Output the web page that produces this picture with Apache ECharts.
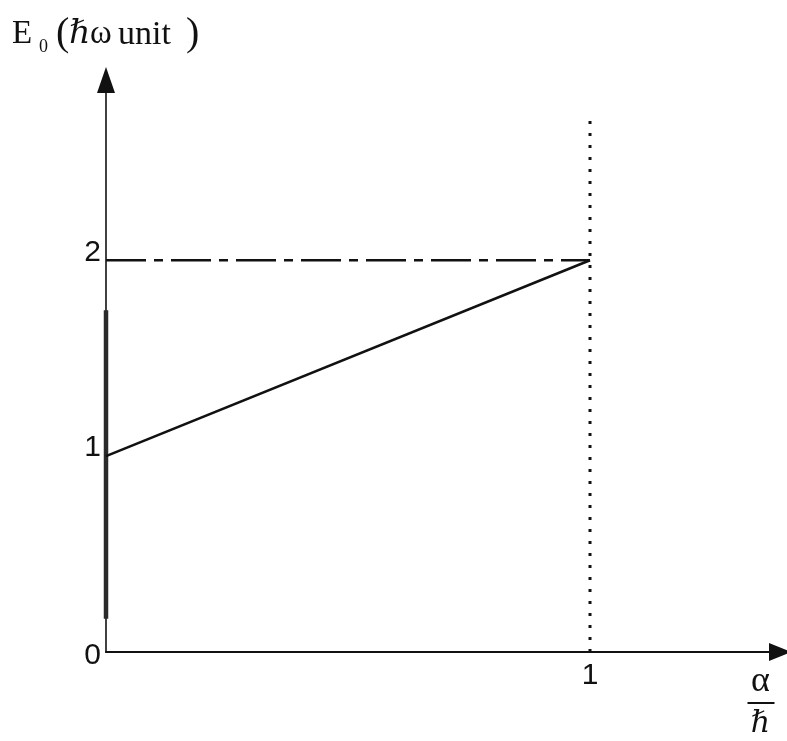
<!DOCTYPE html>
<html>
<head>
<meta charset="utf-8">
<script src="https://cdn.jsdelivr.net/npm/echarts@6/dist/echarts.min.js"></script>
<style>
  html, body { margin: 0; padding: 0; background: #ffffff; }
  #chart { width: 787px; height: 741px; }
</style>
</head>
<body>
<div id="chart"></div>
<script>
// Ground-state energy E0 (in units of ħω) against α/ħ
const yTicks = [0, 1, 2];
const xTicks = [1];
const energyLine = [[0, 1], [1, 2]];        // E0 rising from 1 to 2
const levelLine = [[0, 2], [1, 2]];         // E0 = 2 reference level
const limitLine = [[1, 0], [1, 2.75]];      // α/ħ = 1 boundary
const axisSegment = [[0, 0.17], [0, 1.745]]; // heavy stroke along the E0 axis

const serif = "'Liberation Serif', 'DejaVu Serif', serif";
const sans = "'Liberation Sans', Arial, sans-serif";
const ink = '#111';

const chart = echarts.init(document.getElementById('chart'), null, { renderer: 'canvas' });

chart.setOption({
  animation: false,
  backgroundColor: '#ffffff',
  grid: { left: 106, right: 15, top: 84, bottom: 89, containLabel: false },
  xAxis: {
    type: 'value',
    min: 0,
    max: 1.376,
    splitLine: { show: false },
    axisLine: {
      lineStyle: { color: ink, width: 2.2 },
      symbol: ['none', 'triangle'],
      symbolSize: [18, 22],
      symbolOffset: [0, 8]
    },
    axisTick: { show: false },
    axisLabel: {
      customValues: xTicks,
      formatter: v => String(v),
      fontFamily: sans,
      fontSize: 30,
      color: ink,
      margin: 9
    }
  },
  yAxis: {
    type: 'value',
    min: 0,
    max: 2.9,
    splitLine: { show: false },
    axisLine: {
      lineStyle: { color: ink, width: 1.6 },
      symbol: ['none', 'triangle'],
      symbolSize: [18, 26],
      symbolOffset: [0, 4]
    },
    axisTick: { show: false },
    axisLabel: {
      customValues: yTicks,
      formatter: v => (v === 0 ? '{z|0}' : '{n|' + v + '}'),
      color: ink,
      margin: 5,
      rich: {
        z: { fontFamily: sans, fontSize: 30, color: ink, padding: [8, 0, 0, 0] },
        n: { fontFamily: sans, fontSize: 30, color: ink, padding: [0, 0, 16, 0] }
      }
    }
  },
  series: [
    {
      type: 'line',
      data: axisSegment,
      symbol: 'none',
      silent: true,
      lineStyle: { color: '#2a2a2a', width: 4.5 },
      z: 3
    },
    {
      type: 'line',
      data: levelLine,
      symbol: 'none',
      silent: true,
      lineStyle: { color: ink, width: 2.6, type: [40, 8, 9, 8], cap: 'butt' },
      z: 4
    },
    {
      type: 'line',
      data: limitLine,
      symbol: 'none',
      silent: true,
      lineStyle: { color: ink, width: 3, type: [3, 9], cap: 'butt' },
      z: 4
    },
    {
      type: 'line',
      data: energyLine,
      symbol: 'none',
      silent: true,
      lineStyle: { color: ink, width: 2.6 },
      z: 5
    }
  ],
  graphic: [
    // axis title: E0 (ħω unit)
    {
      type: 'group',
      left: 12,
      top: 14,
      children: [
        { type: 'text', x: 0, y: 2, style: { text: 'E', font: "33px " + serif, fill: ink } },
        { type: 'text', x: 27, y: 22, style: { text: '0', font: "18px " + serif, fill: ink } },
        { type: 'text', x: 44, y: -2, style: { text: '(', font: "40px " + serif, fill: ink } },
        { type: 'text', x: 57, y: 2, style: { text: 'ℏ', font: "italic 33px " + serif, fill: ink } },
        { type: 'text', x: 78, y: 2, style: { text: 'ω', font: "33px " + serif, fill: ink } },
        { type: 'text', x: 106, y: 2, style: { text: 'unit', font: "34px " + serif, fill: ink } },
        { type: 'text', x: 174, y: -2, style: { text: ')', font: "40px " + serif, fill: ink } }
      ]
    },
    // axis title: α over ħ
    {
      type: 'group',
      left: 745,
      top: 664,
      children: [
        { type: 'text', x: 17, y: 0, style: { text: 'α', font: "36px " + serif, fill: ink, textAlign: 'center' } },
        { type: 'line', shape: { x1: 4, y1: 39, x2: 31, y2: 39 }, style: { stroke: ink, lineWidth: 2 } },
        { type: 'text', x: 17, y: 45, style: { text: 'ℏ', font: "italic 30px " + serif, fill: ink, textAlign: 'center' } }
      ]
    }
  ]
});
</script>
</body>
</html>
